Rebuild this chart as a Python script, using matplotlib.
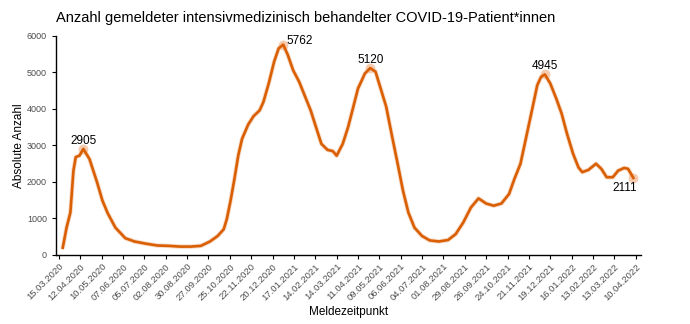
import numpy as np
import pandas as pd
import matplotlib
matplotlib.use("Agg")
from matplotlib import pyplot as plt
import matplotlib.dates as mdates

plt.rcParams['font.family'] = ['Liberation Sans', 'DejaVu Sans']

# Tage seit 15.03.2020 und gemeldete Intensivpatient*innen
start = pd.Timestamp("2020-03-15")
days = [5, 10, 15, 19, 22, 27, 32, 40, 45, 50, 57, 64, 74, 87, 99, 114, 129, 144,
        159, 173, 186, 198, 208, 216, 220, 225, 230, 235, 240, 248, 255, 263, 268,
        275, 282, 288, 294, 300, 307, 315, 322, 330, 337, 344, 352, 359, 364, 372,
        379, 387, 392, 396, 401, 408, 415, 421, 429, 436, 444, 451, 458, 466, 476,
        486, 498, 510, 520, 530, 540, 550, 560, 570, 580, 590, 597, 605, 612, 620,
        627, 632, 637, 644, 652, 659, 666, 674, 681, 686, 694, 704, 711, 718, 726,
        733, 741, 746, 753]
values = [200, 750, 1165, 2310, 2680, 2725, 2905, 2630, 2310, 1990, 1490, 1140, 750,
          460, 370, 310, 260, 250, 230, 230, 250, 370, 520, 705, 980, 1490, 2080,
          2720, 3180, 3570, 3800, 3960, 4190, 4700, 5290, 5660, 5762, 5480, 5060,
          4740, 4375, 3960, 3500, 3045, 2880, 2845, 2720, 3045, 3500, 4150, 4560,
          4740, 4970, 5120, 5020, 4610, 4060, 3320, 2500, 1760, 1165, 750, 520, 400,
          370, 410, 570, 890, 1300, 1550, 1410, 1350, 1410, 1670, 2080, 2500, 3180,
          3960, 4650, 4880, 4945, 4700, 4280, 3870, 3320, 2770, 2400, 2270, 2330,
          2500, 2360, 2130, 2130, 2310, 2385, 2360, 2111]

dates = start + pd.to_timedelta(days, unit="D")
vals = np.array(values)

# beschriftete Punkte: Maxima der Wellen und letzter Wert
last = len(values) - 1
peaks = [6, 36, 53, 80, last]
offsets = {6: (0, 1.5, "center", "bottom"), 36: (2, -2, "left", "bottom"),
           53: (0, 1.5, "center", "bottom"), 80: (0, 1.5, "center", "bottom"),
           last: (-6, -3, "center", "top")}

fig = plt.figure(figsize=(6.9, 3.24), dpi=100)
ax = fig.add_axes([0.081, 0.213, 0.848, 0.676])

ax.plot(dates, vals, color="#f0b48c", lw=3.2, alpha=0.5, solid_capstyle="round", zorder=2)
ax.plot(dates, vals, color="#d95f02", lw=1.9, zorder=3)

for i in peaks:
    ax.scatter(dates[i], vals[i], s=50, color="#f4c09c", alpha=0.8, zorder=2, lw=0)
    dx, dy, ha, va = offsets[i]
    ax.annotate(str(values[i]), (dates[i], vals[i]), xytext=(dx, dy),
                textcoords="offset points", ha=ha, va=va, fontsize=8.5, zorder=4)

ax.set_ylim(0, 6000)
ax.set_yticks(np.arange(0, 6001, 1000))
ax.set_xlim(pd.Timestamp("2020-03-11"), pd.Timestamp("2022-04-17"))
ticks = pd.date_range("2020-03-15", "2022-04-10", freq="28D")
ax.set_xticks(ticks)
ax.xaxis.set_major_formatter(mdates.DateFormatter("%d.%m.%Y"))
plt.setp(ax.get_xticklabels(), rotation=45, ha="right", rotation_mode="anchor")
ax.tick_params(axis="both", colors="black", length=3, width=0.8, labelsize=6.5,
               labelcolor="#4d4d4d")
ax.tick_params(axis="x", labelsize=6.8, pad=2)

for side in ["top", "right"]:
    ax.spines[side].set_visible(False)
for side in ["left", "bottom"]:
    ax.spines[side].set_linewidth(1.0)

ax.set_ylabel("Absolute Anzahl", fontsize=8.5)
ax.set_xlabel("Meldezeitpunkt", fontsize=8.5)
ax.xaxis.set_label_coords(0.50, -0.235)
ax.yaxis.set_label_coords(-0.053, 0.5)
fig.text(0.081, 0.944, "Anzahl gemeldeter intensivmedizinisch behandelter COVID-19-Patient*innen",
         fontsize=10.5, ha="left", va="center")

fig.savefig("out.png", dpi=100)
